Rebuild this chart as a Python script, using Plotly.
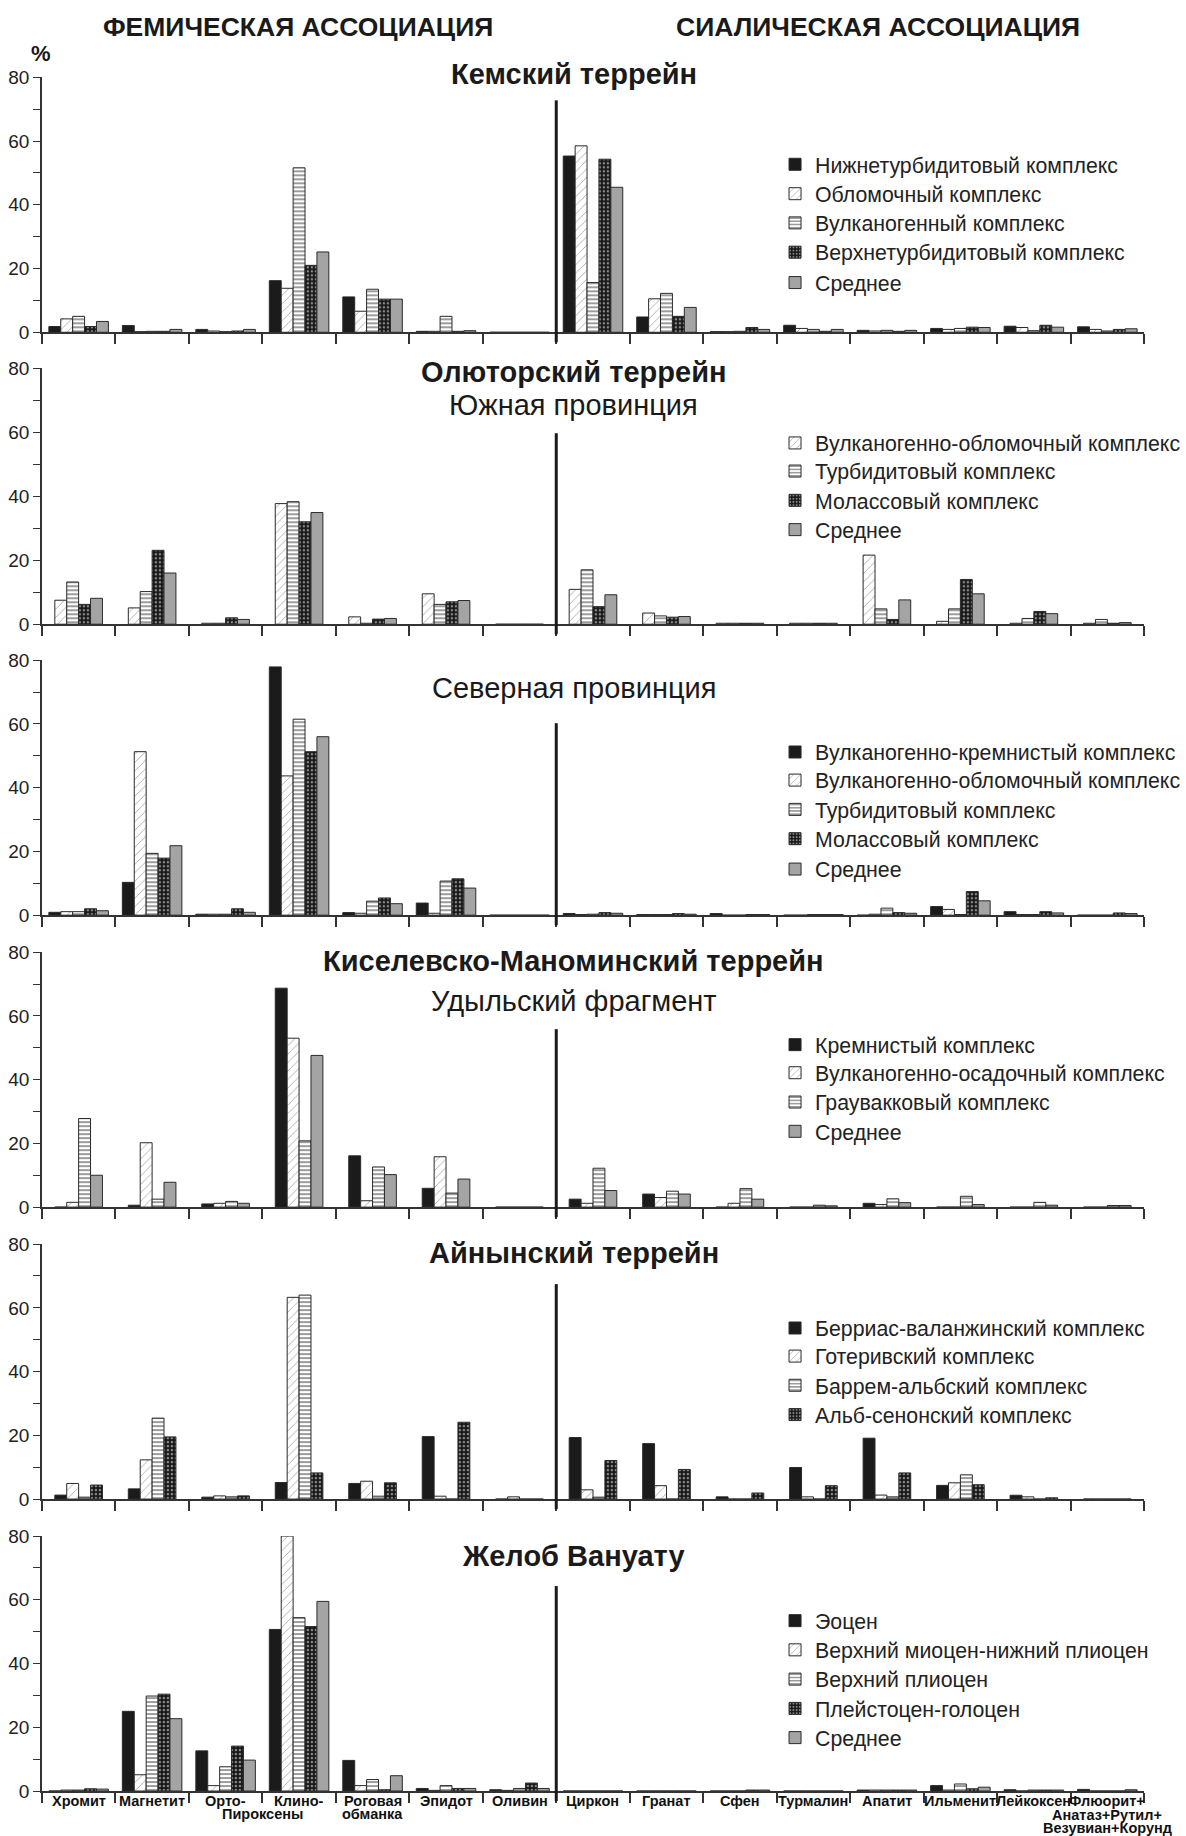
import plotly.graph_objects as go

W, H = 1186, 1846   # a little taller than the window; the picture shows rows up to ~1846

CATEGORIES = ["Хромит", "Магнетит", "Ортопироксены", "Клинопироксены", "Роговая обманка",
              "Эпидот", "Оливин", "Циркон", "Гранат", "Сфен", "Турмалин", "Апатит",
              "Ильменит", "Лейкоксен", "Флюорит+Анатаз+Рутил+Везувиан+Корунд"]

# ---- Кемский террейн ----
KEM_NAMES = ["Нижнетурбидитовый комплекс", "Обломочный комплекс", "Вулканогенный комплекс",
             "Верхнетурбидитовый комплекс", "Среднее"]
KEM_NIZHNETURB = [1.8, 2.1, 0.9, 16.2, 11.1, 0.3, 0, 55.3, 4.8, 0.2, 2.2, 0.6, 1.2, 1.9, 1.7]
KEM_OBLOM = [4.2, 0.2, 0.4, 13.8, 6.6, 0.3, 0, 58.5, 10.5, 0.2, 1.2, 0.4, 0.9, 1.5, 0.9]
KEM_VULK = [5.0, 0.3, 0.2, 51.6, 13.5, 5.0, 0, 15.6, 12.2, 0.3, 0.9, 0.6, 1.2, 0.5, 0.4]
KEM_VERKHNETURB = [1.8, 0.3, 0.4, 21.0, 10.4, 0.3, 0, 54.3, 5.0, 1.5, 0.3, 0.3, 1.6, 2.2, 0.9]
KEM_SREDNEE = [3.4, 0.9, 0.9, 25.2, 10.4, 0.5, 0, 45.5, 7.8, 0.9, 0.9, 0.6, 1.5, 1.6, 1.1]

# ---- Олюторский террейн, Южная провинция ----
YUZH_NAMES = ["Вулканогенно-обломочный комплекс", "Турбидитовый комплекс", "Молассовый комплекс", "Среднее"]
YUZH_VULK_OBLOM = [7.5, 5.1, 0.3, 37.7, 2.3, 9.5, 0, 10.9, 3.5, 0.3, 0.3, 21.6, 0.9, 0.3, 0.3]
YUZH_TURB = [13.2, 10.2, 0.3, 38.3, 0.3, 6.2, 0, 17.0, 2.6, 0.3, 0.3, 4.8, 4.8, 1.8, 1.5]
YUZH_MOLASS = [6.2, 23.1, 2.0, 32.0, 1.6, 7.0, 0, 5.5, 2.2, 0.3, 0.3, 1.5, 14.0, 4.0, 0.3]
YUZH_SREDNEE = [8.1, 16.0, 1.5, 34.9, 1.8, 7.4, 0, 9.2, 2.4, 0.3, 0.3, 7.6, 9.5, 3.3, 0.5]

# ---- Северная провинция ----
SEV_NAMES = ["Вулканогенно-кремнистый комплекс", "Вулканогенно-обломочный комплекс",
             "Турбидитовый комплекс", "Молассовый комплекс", "Среднее"]
SEV_VULK_KREMN = [0.9, 10.3, 0.3, 77.9, 0.8, 3.8, 0, 0.5, 0.2, 0.5, 0, 0, 2.7, 1.1, 0]
SEV_VULK_OBLOM = [1.1, 51.3, 0.3, 43.7, 0.6, 0.6, 0, 0.2, 0.2, 0, 0, 0.3, 1.8, 0.2, 0]
SEV_TURB = [1.1, 19.4, 0.3, 61.5, 4.4, 10.7, 0, 0.3, 0.2, 0, 0.2, 2.2, 0.2, 0.2, 0]
SEV_MOLASS = [2.0, 17.9, 2.0, 51.3, 5.4, 11.4, 0, 0.8, 0.5, 0.2, 0.2, 0.8, 7.4, 1.1, 0.7]
SEV_SREDNEE = [1.4, 21.8, 0.9, 56.0, 3.6, 8.5, 0, 0.6, 0.3, 0.2, 0.2, 0.6, 4.5, 0.7, 0.5]

# ---- Киселевско-Маноминский террейн, Удыльский фрагмент ----
KIS_NAMES = ["Кремнистый комплекс", "Вулканогенно-осадочный комплекс", "Граувакковый комплекс", "Среднее"]
KIS_KREMN = [0, 0.6, 1.0, 68.7, 16.1, 5.9, 0, 2.5, 4.1, 0, 0, 1.2, 0, 0, 0]
KIS_VULK_OSAD = [1.5, 20.2, 1.2, 53.0, 2.0, 15.8, 0, 1.2, 3.0, 1.2, 0, 0.8, 0, 0, 0]
KIS_GRAUV = [27.8, 2.5, 1.8, 20.8, 12.6, 4.4, 0, 12.2, 5.0, 5.8, 0.6, 2.6, 3.4, 1.5, 0.5]
KIS_SREDNEE = [10.0, 7.8, 1.2, 47.6, 10.2, 8.8, 0, 5.2, 4.1, 2.5, 0.4, 1.4, 0.8, 0.6, 0.5]

# ---- Айнынский террейн ----
AIN_NAMES = ["Берриас-валанжинский комплекс", "Готеривский комплекс", "Баррем-альбский комплекс",
             "Альб-сенонский комплекс"]
AIN_BERRIAS = [1.25, 3.2, 0.6, 5.2, 4.9, 19.6, 0, 19.3, 17.4, 0.7, 9.9, 19.1, 4.3, 1.2, 0]
AIN_GOTERIV = [4.9, 12.3, 1.0, 63.3, 5.6, 0.9, 0.7, 2.9, 4.2, 0, 0.7, 1.25, 5.1, 0.7, 0]
AIN_BARREM = [0.6, 25.4, 0.7, 64.0, 0.9, 0, 0, 0.6, 0, 0, 0, 0.7, 7.6, 0, 0]
AIN_ALB = [4.4, 19.5, 1.0, 8.2, 5.1, 24.1, 0, 12.1, 9.3, 1.9, 4.2, 8.2, 4.5, 0.4, 0]

# ---- Желоб Вануату ----
VAN_NAMES = ["Эоцен", "Верхний миоцен-нижний плиоцен", "Верхний плиоцен", "Плейстоцен-голоцен", "Среднее"]
VAN_EOCEN = [0, 25.0, 12.6, 50.7, 9.6, 0.8, 0.4, 0, 0, 0, 0, 0.3, 1.7, 0.4, 0.5]
VAN_MIOCEN = [0.3, 5.1, 1.7, 80.0, 1.7, 0.2, 0.2, 0, 0, 0, 0, 0.3, 0.3, 0, 0]
VAN_PLIOCEN = [0.3, 29.8, 7.6, 54.4, 3.6, 1.7, 0.8, 0, 0, 0, 0, 0.3, 2.2, 0.3, 0]
VAN_PLEIST = [0.7, 30.4, 14.1, 51.6, 0.4, 0.8, 2.5, 0, 0, 0.3, 0, 0.3, 0.7, 0.3, 0]
VAN_SREDNEE = [0.6, 22.7, 9.7, 59.5, 4.8, 0.8, 0.8, 0, 0, 0.3, 0, 0.3, 1.2, 0.3, 0.4]

# Tick labels (first line), extra lines placed separately
TICK_LINE1 = ["Хромит", "Магнетит", "Орто-", "Клино-", "Роговая", "Эпидот", "Оливин",
              "Циркон", "Гранат", "Сфен", "Турмалин", "Апатит", "Ильменит", "Лейкоксен", "Флюорит+"]

# ---------------- styles ----------------
LINE = dict(color="#2a2a2a", width=1)
STYLES = {
    "black": dict(color="#1b1b1b", line=LINE),
    "hatch": dict(color="white", line=LINE,
                  pattern=dict(shape="/", fgcolor="#555555", bgcolor="white", size=6, solidity=0.15)),
    "horiz": dict(color="white", line=LINE,
                  pattern=dict(shape="-", fgcolor="#222222", bgcolor="white", size=4, solidity=0.45)),
    "cross": dict(color="white", line=LINE,
                  pattern=dict(shape=".", fgcolor="white", bgcolor="#161616", size=4, solidity=0.3)),
    "gray": dict(color="#a4a4a4", line=LINE),
}

# vertical positions are target rows in the 1836-px picture
PANELS = [
    dict(names=KEM_NAMES, series=[KEM_NIZHNETURB, KEM_OBLOM, KEM_VULK, KEM_VERKHNETURB, KEM_SREDNEE],
         styles=["black", "hatch", "horiz", "cross", "gray"],
         top=77, bottom=332, divider_top=100, leg_rows=[165, 194.4, 223.6, 252.9, 283.3],
         titles=[("<b>Кемский террейн</b>", 74)]),
    dict(names=YUZH_NAMES, series=[YUZH_VULK_OBLOM, YUZH_TURB, YUZH_MOLASS, YUZH_SREDNEE],
         styles=["hatch", "horiz", "cross", "gray"],
         top=368, bottom=624, divider_top=433, leg_rows=[443.7, 471.8, 501.1, 530.4],
         titles=[("<b>Олюторский террейн</b>", 372), ("Южная провинция", 405)]),
    dict(names=SEV_NAMES, series=[SEV_VULK_KREMN, SEV_VULK_OBLOM, SEV_TURB, SEV_MOLASS, SEV_SREDNEE],
         styles=["black", "hatch", "horiz", "cross", "gray"],
         top=660, bottom=915, divider_top=723, leg_rows=[752.8, 780.9, 810.2, 839.5, 869.9],
         titles=[("Северная провинция", 688)]),
    dict(names=KIS_NAMES, series=[KIS_KREMN, KIS_VULK_OSAD, KIS_GRAUV, KIS_SREDNEE],
         styles=["black", "hatch", "horiz", "gray"],
         top=952, bottom=1207, divider_top=1029, leg_rows=[1045.5, 1073.6, 1102.9, 1132.2],
         titles=[("<b>Киселевско-Маноминский террейн</b>", 961), ("Удыльский фрагмент", 1001)]),
    dict(names=AIN_NAMES, series=[AIN_BERRIAS, AIN_GOTERIV, AIN_BARREM, AIN_ALB],
         styles=["black", "hatch", "horiz", "cross"],
         top=1244, bottom=1499, divider_top=1284, leg_rows=[1328.9, 1357, 1386.2, 1415.5],
         titles=[("<b>Айнынский террейн</b>", 1253)]),
    dict(names=VAN_NAMES, series=[VAN_EOCEN, VAN_MIOCEN, VAN_PLIOCEN, VAN_PLEIST, VAN_SREDNEE],
         styles=["black", "hatch", "horiz", "cross", "gray"],
         top=1536, bottom=1791, divider_top=1586, leg_rows=[1621.6, 1650.8, 1680.1, 1709.4, 1738.6],
         titles=[("<b>Желоб Вануату</b>", 1556)]),
]

FONT = "Liberation Sans, Arial, sans-serif"
X0, X1 = 42, 1147          # px of the x axis ends
BAR_W = 0.162
V_SCALE, V_SHIFT = 0.9888, 9.67   # observed vertical mapping of the page into the picture


def cy(p):                 # target picture row -> page row
    return (p - V_SHIFT) / V_SCALE


def py(p):                 # target picture row -> paper y
    return 1 - cy(p) / H


def px(p):                 # px from left -> paper x
    return p / W


fig = go.Figure()
shapes, annotations = [], []
layout = dict(width=W, height=H, margin=dict(l=0, r=0, t=0, b=0), autosize=False,
              paper_bgcolor="white", plot_bgcolor="white", barmode="overlay",
              showlegend=True, font=dict(family=FONT, color="#222222"))

leg_count = 0
for k, p in enumerate(PANELS, start=1):
    sfx = "" if k == 1 else str(k)
    n = len(p["series"])
    for i, (name, vals, st, row) in enumerate(zip(p["names"], p["series"], p["styles"], p["leg_rows"])):
        leg_count += 1
        leg_name = "legend" if leg_count == 1 else f"legend{leg_count}"
        fig.add_trace(go.Bar(
            x=CATEGORIES, y=vals, name=name, marker=STYLES[st],
            width=BAR_W, offset=-n * BAR_W / 2 + i * BAR_W,
            xaxis=f"x{sfx}", yaxis=f"y{sfx}", legend=leg_name, showlegend=True,
            cliponaxis=False, hoverinfo="skip",
        ))
        layout[leg_name] = dict(
            x=px(777), y=1 - (cy(row) - 21.6) / H, xanchor="left", yanchor="top",
            bgcolor="rgba(0,0,0,0)", font=dict(size=21.3, family=FONT, color="#222222"),
            itemclick=False, itemdoubleclick=False)
    layout[f"xaxis{sfx}"] = dict(
        domain=[px(X0), px(X1)], anchor=f"y{sfx}", type="category",
        categoryorder="array", categoryarray=CATEGORIES, range=[-0.5, 14.5],
        showline=True, linecolor="#333333", linewidth=1.5, ticks="outside",
        tickson="boundaries", ticklen=10, tickcolor="#333333", tickwidth=1.5,
        showticklabels=False, showgrid=False, zeroline=False, fixedrange=True)
    layout[f"yaxis{sfx}"] = dict(
        domain=[py(p["bottom"]), py(p["top"])], anchor=f"x{sfx}", range=[0, 80],
        tickvals=[0, 10, 20, 30, 40, 50, 60, 70, 80],
        ticktext=["0", "", "20", "", "40", "", "60", "", "80"],
        ticks="outside", ticklen=7, tickcolor="#333333", tickwidth=1.2,
        showline=True, linecolor="#333333", linewidth=1.5, showgrid=False, zeroline=False,
        tickfont=dict(size=19, family=FONT, color="#222222"), fixedrange=True)
    # divider between the two associations
    shapes.append(dict(type="line", xref=f"x{sfx}", yref="paper", x0=6.5, x1=6.5,
                       y0=py(p["bottom"] + 10), y1=py(p["divider_top"]),
                       line=dict(color="#1a1a1a", width=3)))
    for text, yc in p["titles"]:
        annotations.append(dict(text=text, x=px(575), y=py(yc), xref="paper", yref="paper",
                                xanchor="center", yanchor="middle", showarrow=False,
                                font=dict(size=29, family=FONT, color="#1a1a1a")))

# headers
for text, xc in [("<b>ФЕМИЧЕСКАЯ АССОЦИАЦИЯ</b>", 299), ("<b>СИАЛИЧЕСКАЯ АССОЦИАЦИЯ</b>", 880)]:
    annotations.append(dict(text=text, x=px(xc), y=py(27), xref="paper", yref="paper",
                            showarrow=False, xanchor="center", yanchor="middle",
                            font=dict(size=26.5, family=FONT, color="#1a1a1a")))
annotations.append(dict(text="<b>%</b>", x=px(41), y=py(53), xref="paper", yref="paper",
                        showarrow=False, xanchor="center", yanchor="middle",
                        font=dict(size=22, family=FONT, color="#1a1a1a")))

# category labels under the last panel
lab_font = dict(size=14.5, family=FONT, color="#111111")
for i, t in enumerate(TICK_LINE1):
    annotations.append(dict(text=f"<b>{t}</b>", x=i, y=py(1801), xref="x6", yref="paper",
                            showarrow=False, xanchor="center", yanchor="middle", font=lab_font))
extra = [("Пироксены", 2.5, 1814), ("обманка", 4, 1814),
         ("Анатаз+Рутил+", 14, 1815), ("Везувиан+Корунд", 14, 1828)]
for t, xi, yy in extra:
    annotations.append(dict(text=f"<b>{t}</b>", x=xi, y=py(yy), xref="x6", yref="paper",
                            showarrow=False, xanchor="center", yanchor="middle", font=lab_font))

layout["shapes"] = shapes
layout["annotations"] = annotations
fig.update_layout(**layout)
# remove the browser's default body margin so the figure starts at the window corner
fig.write_html("out.html", config={"displayModeBar": False},
               post_script="document.documentElement.style.margin='0';"
                           "document.body.style.margin='0';"
                           "document.body.style.overflow='hidden';")
